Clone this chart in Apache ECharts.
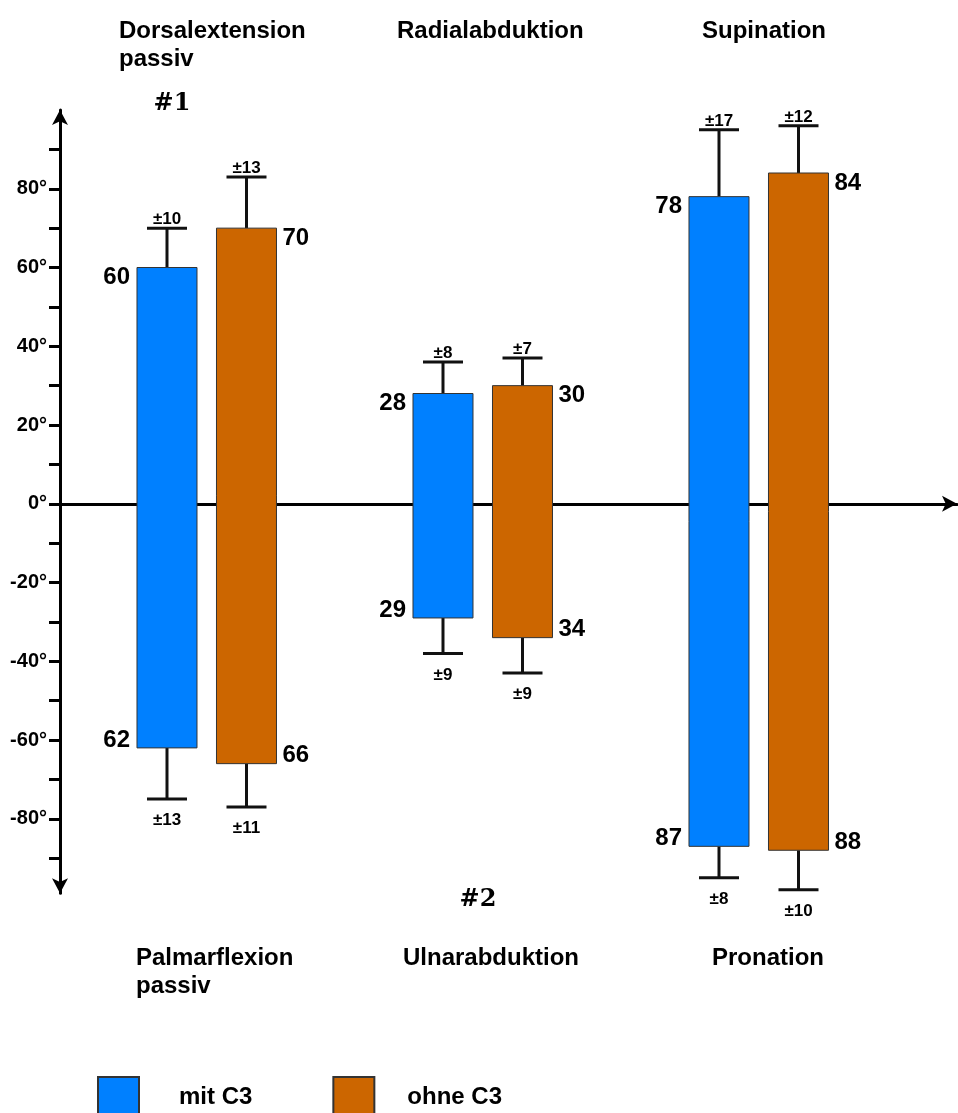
<!DOCTYPE html>
<html><head><meta charset="utf-8">
<script src="https://cdn.jsdelivr.net/npm/echarts@6/dist/echarts.min.js"></script>
<style>html,body{margin:0;padding:0;background:#fff}#c{width:958px;height:1113px}</style>
</head><body><div id="c"></div>
<script>
// ---- data ----
const groups = [0, 1, 2];
const topTitles = ['Dorsalextension\npassiv', 'Radialabduktion', 'Supination'];
const bottomTitles = ['Palmarflexion\npassiv', 'Ulnarabduktion', 'Pronation'];
const groupMarks = ['#1', '#2'];
const seriesNames = ['mit C3', 'ohne C3'];
const mitUp = [60, 28, 78];
const mitUpSd = [10, 8, 17];
const mitDown = [62, 29, 87];
const mitDownSd = [13, 9, 8];
const ohneUp = [70, 30, 84];
const ohneUpSd = [13, 7, 12];
const ohneDown = [66, 34, 88];
const ohneDownSd = [11, 9, 10];
const yLabelValues = [-80, -60, -40, -20, 0, 20, 40, 60, 80];
const yTickValues = [-90, -80, -70, -60, -50, -40, -30, -20, -10, 0, 10, 20, 30, 40, 50, 60, 70, 80, 90];

// ---- styles ----
const SANS = '"Liberation Sans", Arial, Helvetica, sans-serif';
const BLUE = '#0080FF';
const ORANGE = '#CC6600';

function rows(up, upSd, down, downSd) {
  return groups.map((g, i) => [g, up[i], down[i], upSd[i], downSd[i]]);
}

function makeRender(offset, labelSide) {
  return function (params, api) {
    const i = api.value(0);
    const up = api.value(1), down = api.value(2), upSd = api.value(3), downSd = api.value(4);
    const cx = api.coord([i, 0])[0] + offset;
    const yUp = api.coord([i, up])[1];
    const yDown = api.coord([i, -down])[1];
    const yUpE = api.coord([i, up + upSd])[1];
    const yDownE = api.coord([i, -(down + downSd)])[1];
    const color = api.visual('color');
    const hw = 30, cap = 20;
    const lineStyle = { stroke: '#111', lineWidth: 3 };
    const lx = labelSide < 0 ? cx - hw - 7 : cx + hw + 6;
    const la = labelSide < 0 ? 'right' : 'left';
    const valFont = { fontSize: 24, fontWeight: 'bold', fontFamily: SANS, fill: '#000' };
    const sdFont = { fontSize: 17, fontWeight: 'bold', fontFamily: SANS, fill: '#000' };
    return {
      type: 'group',
      children: [
        { type: 'line', shape: { x1: cx, y1: yUp, x2: cx, y2: yUpE }, style: lineStyle },
        { type: 'line', shape: { x1: cx - cap, y1: yUpE, x2: cx + cap, y2: yUpE }, style: lineStyle },
        { type: 'line', shape: { x1: cx, y1: yDown, x2: cx, y2: yDownE }, style: lineStyle },
        { type: 'line', shape: { x1: cx - cap, y1: yDownE, x2: cx + cap, y2: yDownE }, style: lineStyle },
        { type: 'rect', shape: { x: cx - hw, y: yUp, width: hw * 2, height: yDown - yUp },
          style: { fill: color, stroke: '#333', lineWidth: 1 } },
        { type: 'text', style: Object.assign({ x: lx, y: yUp - 2, text: String(up), align: la, verticalAlign: 'top' }, valFont) },
        { type: 'text', style: Object.assign({ x: lx, y: yDown + 4, text: String(down), align: la, verticalAlign: 'bottom' }, valFont) },
        { type: 'text', style: Object.assign({ x: cx, y: yUpE, text: '±' + upSd, align: 'center', verticalAlign: 'bottom' }, sdFont) },
        { type: 'text', style: Object.assign({ x: cx, y: yDownE + 13, text: '±' + downSd, align: 'center', verticalAlign: 'top' }, sdFont) }
      ]
    };
  };
}

const titleFont = 'bold 24px ' + SANS;
const topX = [119, 397, 702];
const bottomX = [136, 403, 712];
const graphics = [];
topTitles.forEach((t, i) => graphics.push({ type: 'text', x: topX[i], y: 17,
  style: { text: t, font: titleFont, fill: '#000', lineHeight: 28, verticalAlign: 'top' } }));
bottomTitles.forEach((t, i) => graphics.push({ type: 'text', x: bottomX[i], y: 944,
  style: { text: t, font: titleFont, fill: '#000', lineHeight: 28, verticalAlign: 'top' } }));
graphics.push({ type: 'text', x: 172, y: 104, style: { text: groupMarks[0], font: 'bold 24px "DejaVu Serif", serif', fill: '#000', align: 'center', verticalAlign: 'middle' } });
graphics.push({ type: 'text', x: 478, y: 900, style: { text: groupMarks[1], font: 'bold 24px "DejaVu Serif", serif', fill: '#000', align: 'center', verticalAlign: 'middle' } });

const chart = echarts.init(document.getElementById('c'), null, { renderer: 'canvas' });
chart.setOption({
  animation: false,
  backgroundColor: '#fff',
  grid: { left: 60, right: 1, top: 110, height: 783.2 },
  xAxis: {
    type: 'value', min: -0.5326, max: 2.7174,
    axisLine: { show: true, onZero: true, symbol: ['none', 'arrow'], symbolSize: [12, 15], symbolOffset: [0, 0],
      lineStyle: { color: '#000', width: 3 } },
    axisTick: { show: false }, axisLabel: { show: false }, splitLine: { show: false }
  },
  yAxis: {
    type: 'value', min: -98.9, max: 100,
    axisLine: { show: true, onZero: false, symbol: ['arrow', 'arrow'], symbolSize: [12, 15], symbolOffset: [0, 0],
      lineStyle: { color: '#000', width: 3 } },
    axisTick: { show: true, length: 11, customValues: yTickValues, lineStyle: { color: '#000', width: 3 } },
    axisLabel: { show: true, customValues: yLabelValues, margin: 13, formatter: v => v + '°',
      fontSize: 20, fontWeight: 'bold', fontFamily: SANS, color: '#000' },
    splitLine: { show: false }
  },
  legend: {
    left: 97, top: 1076, padding: 0, itemWidth: 41, itemHeight: 41, itemGap: 80, icon: 'rect',
    textStyle: { fontSize: 24, fontWeight: 'bold', fontFamily: SANS, color: '#000' },
    data: [
      { name: seriesNames[0], textStyle: { padding: [0, 0, 0, 35] } },
      { name: seriesNames[1], textStyle: { padding: [0, 0, 0, 28] } }
    ]
  },
  graphic: graphics,
  series: [
    { name: seriesNames[0], type: 'custom', renderItem: makeRender(-40, -1),
      itemStyle: { color: BLUE, borderColor: '#333', borderWidth: 1 },
      encode: { x: 0, y: [1, 2] }, data: rows(mitUp, mitUpSd, mitDown, mitDownSd) },
    { name: seriesNames[1], type: 'custom', renderItem: makeRender(39.5, 1),
      itemStyle: { color: ORANGE, borderColor: '#333', borderWidth: 1 },
      encode: { x: 0, y: [1, 2] }, data: rows(ohneUp, ohneUpSd, ohneDown, ohneDownSd) }
  ]
});
</script></body></html>
